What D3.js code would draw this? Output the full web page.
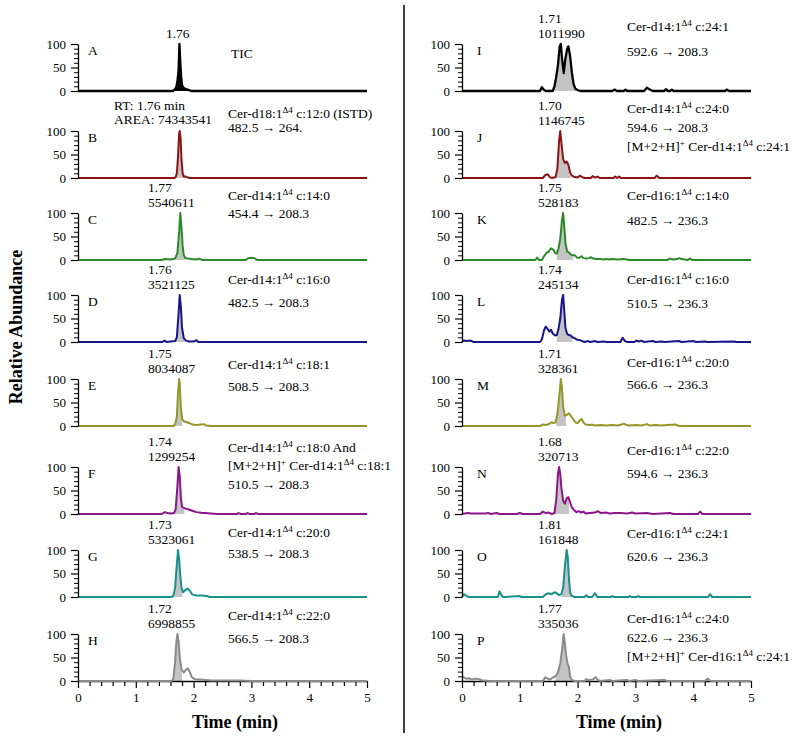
<!DOCTYPE html>
<html><head><meta charset="utf-8">
<script src="https://cdn.jsdelivr.net/npm/d3@7"></script>
<style>
body{margin:0;background:#fff}
svg{display:block}
text{font-family:"Liberation Serif","Times New Roman",serif;fill:#000;white-space:pre}
</style>
</head><body>
<svg id="chart" width="800" height="741"></svg>
<script>
// ---------------- DATA ----------------
const panelLetters = ["A","B","C","D","E","F","G","H","I","J","K","L","M","N","O","P"];
const panelColors = ["#000000","#8e1414","#2a8a2a","#16168a","#96962a","#8a168a","#18908c","#8a8a8a",
                     "#000000","#8e1414","#2a8a2a","#16168a","#96962a","#8a168a","#18908c","#8a8a8a"];
const peakLabels = [
  ["1.76"], ["RT: 1.76 min","AREA: 74343541"], ["1.77","5540611"], ["1.76","3521125"],
  ["1.75","8034087"], ["1.74","1299254"], ["1.73","5323061"], ["1.72","6998855"],
  ["1.71","1011990"], ["1.70","1146745"], ["1.75","528183"], ["1.74","245134"],
  ["1.71","328361"], ["1.68","320713"], ["1.81","161848"], ["1.77","335036"]
];
const descriptors = [
  ["TIC"],
  ["Cer-d18:1^{Δ4} c:12:0 (ISTD)","482.5 → 264."],
  ["Cer-d14:1^{Δ4} c:14:0","454.4 → 208.3"],
  ["Cer-d14:1^{Δ4} c:16:0","482.5 → 208.3"],
  ["Cer-d14:1^{Δ4} c:18:1","508.5 → 208.3"],
  ["Cer-d14:1^{Δ4} c:18:0 And","[M+2+H]^{+} Cer-d14:1^{Δ4} c:18:1","510.5 → 208.3"],
  ["Cer-d14:1^{Δ4} c:20:0","538.5 → 208.3"],
  ["Cer-d14:1^{Δ4} c:22:0","566.5 → 208.3"],
  ["Cer-d14:1^{Δ4} c:24:1","592.6 → 208.3"],
  ["Cer-d14:1^{Δ4} c:24:0","594.6 → 208.3","[M+2+H]^{+} Cer-d14:1^{Δ4} c:24:1"],
  ["Cer-d16:1^{Δ4} c:14:0","482.5 → 236.3"],
  ["Cer-d16:1^{Δ4} c:16:0","510.5 → 236.3"],
  ["Cer-d16:1^{Δ4} c:20:0","566.6 → 236.3"],
  ["Cer-d16:1^{Δ4} c:22:0","594.6 → 236.3"],
  ["Cer-d16:1^{Δ4} c:24:1","620.6 → 236.3"],
  ["Cer-d16:1^{Δ4} c:24:0","622.6 → 236.3","[M+2+H]^{+} Cer-d16:1^{Δ4} c:24:1"]
];
const peakTimes = [1.76,1.76,1.77,1.76,1.75,1.74,1.73,1.72,1.71,1.70,1.75,1.74,1.71,1.68,1.81,1.77];
const fillRanges = [[1.64,1.97],[1.68,1.87],[1.70,1.86],[1.69,1.85],[1.68,1.80],[1.66,1.84],[1.64,1.80],[1.64,1.80],
                    [1.58,1.97],[1.62,1.88],[1.64,1.92],[1.64,1.90],[1.63,1.80],[1.60,1.85],[1.72,1.88],[1.62,1.88]];
const xTickValues = [0,1,2,3,4,5];
const xMinorTicks = [0.2,0.4,0.6,0.8,1.2,1.4,1.6,1.8,2.2,2.4,2.6,2.8,3.2,3.4,3.6,3.8,4.2,4.4,4.6,4.8];
const yTickValues = [0,50,100];
const yMinorTicks = [10,20,30,40,60,70,80,90];

const traceA = [[0,0],[1.64,0],[1.67,3],[1.70,8],[1.72,20],[1.74,45],[1.755,100],[1.77,60],[1.785,30],[1.80,12],[1.83,6],[1.87,4],[1.92,2],[1.96,0],[5,0]];
const traceB = [[0,0],[1.66,0],[1.69,2],[1.71,10],[1.73,45],[1.75,95],[1.76,100],[1.775,85],[1.79,40],[1.81,10],[1.83,3],[1.87,3],[1.9,1],[1.93,0],[5,0]];
const traceC = [[0,0],[1.45,0],[1.5,2],[1.6,1],[1.68,3],[1.72,15],[1.75,60],[1.77,100],[1.79,70],[1.81,30],[1.83,10],[1.86,4],[1.95,2],[2.05,1],[2.1,3],[2.15,0],[2.9,0],[2.95,4],[3.0,5],[3.05,4],[3.1,0],[5,0]];
const traceD = [[0,0],[1.45,0],[1.5,3],[1.53,0],[1.68,2],[1.71,10],[1.74,60],[1.76,100],[1.78,75],[1.80,30],[1.83,8],[1.87,3],[1.92,1],[2.0,1],[2.05,4],[2.08,0],[5,0]];
const traceE = [[0,0],[1.65,0],[1.68,3],[1.71,20],[1.73,70],[1.75,100],[1.76,90],[1.78,40],[1.80,15],[1.83,10],[1.88,8],[1.93,6],[1.98,3],[2.05,2],[2.12,3],[2.18,4],[2.22,1],[2.3,0],[5,0]];
const traceF = [[0,0],[1.45,0],[1.5,4],[1.55,2],[1.6,1],[1.66,2],[1.69,10],[1.72,60],[1.74,100],[1.76,80],[1.78,35],[1.80,15],[1.85,12],[1.9,10],[1.95,8],[2.0,6],[2.05,4],[2.1,3],[2.15,2],[2.2,2],[2.3,1],[2.4,0],[2.75,0],[2.78,2],[2.82,0],[2.9,0],[2.93,2],[2.97,0],[3.05,0],[3.08,2],[3.12,0],[5,0]];
const traceG = [[0,0],[1.62,0],[1.65,3],[1.68,20],[1.71,70],[1.73,100],[1.75,80],[1.77,45],[1.79,20],[1.82,10],[1.86,15],[1.9,18],[1.94,12],[1.98,5],[2.05,3],[2.15,3],[2.22,2],[2.28,0],[5,0]];
const traceH = [[0,0],[1.62,0],[1.65,5],[1.68,40],[1.70,80],[1.72,100],[1.74,85],[1.76,50],[1.79,25],[1.83,18],[1.87,24],[1.9,27],[1.93,20],[1.97,8],[2.02,4],[2.1,3],[2.2,2],[2.3,1],[2.5,1],[2.8,1],[3.0,0],[5,0]];
const traceI = [[0,0],[1.35,0],[1.38,8],[1.42,2],[1.45,0],[1.57,0],[1.6,10],[1.63,30],[1.66,55],[1.69,95],[1.71,100],[1.73,70],[1.76,38],[1.79,70],[1.82,90],[1.84,95],[1.87,75],[1.9,40],[1.93,15],[1.96,5],[2.0,2],[2.05,0],[2.6,0],[2.64,3],[2.68,0],[2.8,0],[2.83,3],[2.86,0],[3.15,0],[3.2,7],[3.25,3],[3.3,0],[3.5,0],[3.53,4],[3.56,0],[3.6,0],[3.63,3],[3.66,0],[4.55,0],[4.58,3],[4.62,0],[5,0]];
const traceJ = [[0,0],[1.4,0],[1.44,6],[1.48,8],[1.52,2],[1.56,0],[1.62,2],[1.65,20],[1.68,80],[1.70,100],[1.72,75],[1.75,40],[1.78,32],[1.81,35],[1.84,28],[1.87,12],[1.9,5],[1.95,2],[2.0,1],[2.04,5],[2.08,2],[2.12,0],[2.23,0],[2.26,4],[2.3,1],[2.35,3],[2.38,0],[2.62,0],[2.65,3],[2.68,0],[2.72,3],[2.75,0],[3.33,0],[3.37,5],[3.41,0],[5,0]];
const traceK = [[0,0],[1.27,0],[1.3,5],[1.33,0],[1.38,0],[1.42,8],[1.46,15],[1.5,18],[1.54,25],[1.58,22],[1.61,15],[1.64,14],[1.67,25],[1.7,45],[1.73,85],[1.75,100],[1.77,70],[1.79,35],[1.82,18],[1.86,15],[1.88,12],[1.91,10],[1.95,10],[1.99,5],[2.03,5],[2.07,8],[2.1,4],[2.15,3],[2.2,4],[2.23,6],[2.27,3],[2.32,2],[2.4,2],[2.45,1],[2.5,2],[2.55,1],[2.6,2],[2.7,1],[2.8,2],[2.9,0],[3.55,0],[3.6,3],[3.65,1],[3.72,2],[3.76,4],[3.8,2],[3.9,0],[3.95,3],[3.98,0],[5,0]];
const traceL = [[0,0],[0.03,3],[0.08,2],[0.15,3],[0.2,0],[1.35,0],[1.38,5],[1.42,25],[1.45,33],[1.48,28],[1.51,22],[1.54,26],[1.57,18],[1.61,14],[1.64,15],[1.67,28],[1.7,50],[1.73,90],[1.75,100],[1.77,65],[1.79,30],[1.82,17],[1.85,15],[1.88,14],[1.91,10],[1.95,8],[1.99,5],[2.04,4],[2.08,2],[2.12,0],[2.18,2],[2.22,0],[2.3,2],[2.34,0],[2.45,1],[2.5,0],[2.74,0],[2.78,9],[2.82,2],[2.86,0],[2.98,0],[3.02,3],[3.06,1],[3.1,3],[3.15,0],[3.3,2],[3.35,0],[3.45,1],[3.5,0],[3.75,2],[3.8,0],[4.0,2],[4.05,0],[4.2,1],[4.25,0],[4.7,1],[4.75,0],[5,0]];
const traceM = [[0,0],[1.35,0],[1.4,3],[1.45,2],[1.5,4],[1.55,8],[1.58,6],[1.62,8],[1.65,25],[1.68,60],[1.71,100],[1.73,80],[1.75,40],[1.78,22],[1.82,24],[1.85,27],[1.88,22],[1.92,15],[1.96,8],[2.0,6],[2.04,12],[2.07,15],[2.1,8],[2.14,3],[2.2,2],[2.25,3],[2.3,1],[2.4,2],[2.5,1],[2.6,2],[2.7,1],[2.76,3],[2.8,5],[2.85,2],[2.9,1],[3.0,2],[3.1,1],[3.2,4],[3.25,1],[3.35,2],[3.45,1],[3.55,2],[3.7,3],[3.75,0],[5,0]];
const traceN = [[0,0],[0.1,2],[0.15,1],[0.4,1],[0.45,2],[0.5,0],[0.6,2],[0.65,0],[0.95,0],[1.0,2],[1.05,0],[1.35,0],[1.4,5],[1.45,2],[1.5,3],[1.55,0],[1.6,2],[1.63,30],[1.66,85],[1.68,100],[1.70,85],[1.72,55],[1.75,28],[1.78,22],[1.81,33],[1.84,36],[1.87,25],[1.9,14],[1.94,8],[1.98,4],[2.02,6],[2.06,3],[2.1,5],[2.14,1],[2.2,2],[2.3,3],[2.35,6],[2.4,2],[2.5,3],[2.55,1],[2.65,2],[2.75,2],[2.85,1],[2.95,3],[3.0,1],[3.2,2],[3.3,0],[3.6,2],[3.65,0],[4.08,0],[4.12,5],[4.16,0],[5,0]];
const traceO = [[0,0],[0.03,6],[0.07,3],[0.12,0],[0.62,0],[0.65,12],[0.69,2],[0.72,0],[1.0,2],[1.03,0],[1.4,0],[1.45,6],[1.5,8],[1.55,6],[1.6,10],[1.64,8],[1.68,4],[1.72,6],[1.75,20],[1.78,65],[1.81,100],[1.83,85],[1.85,40],[1.87,10],[1.9,2],[1.95,0],[2.12,0],[2.15,4],[2.18,0],[2.25,0],[2.3,8],[2.34,0],[2.58,0],[2.6,2],[2.63,0],[2.88,0],[2.9,2],[2.93,0],[3.02,0],[3.05,2],[3.08,0],[4.26,0],[4.29,6],[4.33,0],[5,0]];
const traceP = [[0,10],[0.03,8],[0.07,5],[0.12,6],[0.17,3],[0.22,5],[0.3,4],[0.35,1],[0.5,0],[1.4,0],[1.44,8],[1.48,5],[1.52,3],[1.58,8],[1.62,10],[1.66,18],[1.7,38],[1.73,65],[1.76,100],[1.78,80],[1.8,55],[1.83,35],[1.85,30],[1.87,10],[1.9,2],[1.95,0],[2.12,0],[2.15,4],[2.2,1],[2.27,4],[2.31,8],[2.35,2],[2.4,0],[2.55,2],[2.6,0],[2.85,2],[2.9,0],[3.0,2],[3.05,0],[3.5,2],[3.55,0],[4.2,0],[4.25,5],[4.3,0],[5,0]];
const traces = [traceA,traceB,traceC,traceD,traceE,traceF,traceG,traceH,traceI,traceJ,traceK,traceL,traceM,traceN,traceO,traceP];

// ---------------- LAYOUT ----------------
const colX0 = [78, 462];
const plotW = 289;
const plotH = 47;
const rowBase = [91, 178, 260, 342, 426, 514, 597, 681];
const labelX = [148, 538];
const descX = [228, 627];
const descOffsets = [[14],[-13,1],[-13,5],[-11,12],[-10,12],[-15,3,22],[-13,8],[-14,9],
                     [-13,12],[-18,1,20],[-13,12],[-11,13],[-12,10],[-12,11],[-12,11],[-11,8,27]];

const svg = d3.select("#chart");

function richText(sel, str) {
  const parts = str.split(/(\^\{[^}]*\})/);
  let shifted = false;
  parts.forEach(p => {
    if (!p) return;
    if (p.startsWith("^{")) {
      sel.append("tspan").attr("dy", shifted ? 0 : -5).attr("font-size", 9).text(p.slice(2, -1));
      shifted = true;
    } else {
      sel.append("tspan").attr("dy", shifted ? 5 : 0).text(p);
      shifted = false;
    }
  });
}

const defs = svg.append("defs");

panelLetters.forEach((letter, i) => {
  const col = i < 8 ? 0 : 1;
  const row = i % 8;
  const base = rowBase[row];
  const top = base - plotH;
  const x = d3.scaleLinear().domain([0, 5]).range([colX0[col], colX0[col] + plotW]);
  const y = d3.scaleLinear().domain([0, 100]).range([base, top]);
  const g = svg.append("g");
  const data = traces[i];

  // integrated area fill
  const clipId = "clip" + letter;
  defs.append("clipPath").attr("id", clipId).append("rect")
    .attr("x", x(fillRanges[i][0])).attr("width", x(fillRanges[i][1]) - x(fillRanges[i][0]))
    .attr("y", top - 5).attr("height", plotH + 6);
  const area = d3.area().x(d => x(d[0])).y0(y(0)).y1(d => y(d[1]));
  g.append("path").datum(data).attr("d", area)
    .attr("fill", letter === "A" ? "#000" : "#c4c4c4")
    .attr("clip-path", `url(#${clipId})`);

  // x axis on bottom rows
  if (row === 7) {
    g.append("g").attr("transform", `translate(0,${base})`)
      .call(d3.axisBottom(x).tickValues(xMinorTicks).tickSize(5).tickFormat(""))
      .call(a => a.select(".domain").remove())
      .selectAll("line").attr("stroke", "#000").attr("stroke-width", 1.2);
    const ax = g.append("g").attr("transform", `translate(0,${base})`)
      .call(d3.axisBottom(x).tickValues(xTickValues).tickSize(7).tickSizeOuter(0).tickPadding(5).tickFormat(d3.format("d")));
    ax.select(".domain").attr("stroke", "#000").attr("stroke-width", 1.5);
    ax.selectAll("line").attr("stroke", "#000").attr("stroke-width", 1.2);
    ax.selectAll("text").attr("font-size", 13).attr("font-family", "Liberation Serif, serif");
  }

  // trace
  const line = d3.line().x(d => x(d[0])).y(d => y(d[1]));
  g.append("path").datum(data).attr("d", line)
    .attr("fill", "none").attr("stroke", panelColors[i])
    .attr("stroke-width", letter === "A" || letter === "I" ? 2.3 : 2)
    .attr("stroke-linejoin", "round");

  // y axis
  g.append("g").attr("transform", `translate(${colX0[col]},0)`)
    .call(d3.axisLeft(y).tickValues(yMinorTicks).tickSize(4).tickFormat(""))
    .call(a => a.select(".domain").remove())
    .selectAll("line").attr("stroke", "#000").attr("stroke-width", 1);
  const ay = g.append("g").attr("transform", `translate(${colX0[col]},0)`)
    .call(d3.axisLeft(y).tickValues(yTickValues).tickSize(7).tickSizeOuter(0).tickPadding(5));
  ay.select(".domain").attr("stroke", "#000").attr("stroke-width", 1.3);
  ay.selectAll("line").attr("stroke", "#000").attr("stroke-width", 1.2);
  ay.selectAll("text").attr("font-size", 13).attr("font-family", "Liberation Serif, serif");

  // panel letter
  g.append("text").attr("x", colX0[col] + (col === 0 ? 10 : 15)).attr("y", top + 11)
    .attr("font-size", 13.5).text(letter);

  // peak labels
  const pl = peakLabels[i];
  if (pl.length === 1) {
    g.append("text").attr("x", x(peakTimes[i]) - 2).attr("y", top - 6)
      .attr("text-anchor", "middle").attr("font-size", 13.5).text(pl[0]);
  } else {
    const lx = letter === "B" ? 114 : labelX[col];
    const offs = letter === "B" ? [-21, -7] : [-21, -6];
    pl.forEach((t, k) => {
      g.append("text").attr("x", lx).attr("y", top + offs[k]).attr("font-size", 13.5).text(t);
    });
  }

  // descriptors
  descriptors[i].forEach((t, k) => {
    const tx = g.append("text")
      .attr("x", letter === "A" ? 231 : descX[col])
      .attr("y", top + descOffsets[i][k]).attr("font-size", 13.5);
    richText(tx, t);
  });
});

// divider
svg.append("line").attr("x1", 404).attr("x2", 404).attr("y1", 5).attr("y2", 733)
  .attr("stroke", "#000").attr("stroke-width", 1.5);

// axis titles
svg.append("text").attr("transform", "translate(22,327) rotate(-90)")
  .attr("text-anchor", "middle").attr("font-size", 18).attr("font-weight", "bold").text("Relative Abundance");
[[235, 0], [619, 1]].forEach(([cx]) => {
  svg.append("text").attr("x", cx).attr("y", 728).attr("text-anchor", "middle")
    .attr("font-size", 18).attr("font-weight", "bold").text("Time (min)");
});
</script>
</body></html>
